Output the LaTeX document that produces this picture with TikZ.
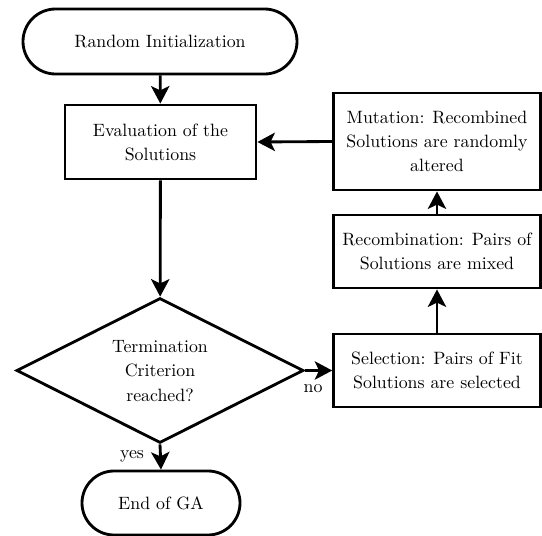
\documentclass[tikz,border=0pt]{standalone}
\usetikzlibrary{shapes.geometric,shapes.misc,arrows.meta}
\begin{document}
\begin{tikzpicture}[x=0.6pt,y=-0.6pt,
  every node/.style={font=\fontsize{10.7}{14.5}\selectfont},
  base/.style={draw, line width=1.7pt, align=center, inner sep=0pt},
  terminal/.style={base, rounded rectangle},
  procbox/.style={base, rectangle},
  decision/.style={base, diamond},
  flow/.style={line width=1.7pt, -{Stealth[length=10.5pt,width=11pt,inset=2.6pt]}},
  lbl/.style={inner sep=1pt}]
  \useasboundingbox (0,0) rectangle (542,536);

  % main column
  \node[terminal, minimum width=164.4pt, minimum height=39pt] (init) at (160,41.5) {Random Initialization};
  \node[procbox, minimum width=114.6pt, minimum height=44.4pt] (eval) at (160.5,142) {Evaluation of the\\Solutions};
  \node[decision, minimum width=172.2pt, minimum height=87pt] (term) at (160,370.5) {};
  \node[align=center] (termtxt) at (160,371) {Termination\\Criterion\\reached?};
  \node[terminal, minimum width=94.8pt, minimum height=38.4pt] (done) at (161,503) {End of GA};

  % side column
  \node[procbox, minimum width=124pt, minimum height=43.8pt] (sel) at (437,370.5) {Selection: Pairs of Fit\\Solutions are selected};
  \node[procbox, minimum width=124pt, minimum height=43.8pt] (recomb) at (437,251.5) {Recombination: Pairs of\\Solutions are mixed};
  \node[procbox, minimum width=124pt, minimum height=58.2pt] (mut) at (437,141.5) {Mutation: Recombined\\Solutions are randomly\\altered};

  % connectors
  \draw[flow] (init) -- (eval);
  \draw[flow] (eval) -- (term);
  \draw[flow] (term.south) -- (done.north);
  \draw[flow] (term.east) -- (sel.west);
  \draw[flow] (sel) -- (recomb);
  \draw[flow] (recomb) -- (mut);
  \draw[flow] (mut.west) -- (eval.east);

  % branch labels
  \node[lbl] (yes) at (132,456) {yes};
  \node[lbl] (no) at (313,389) {no};
\end{tikzpicture}
\end{document}
